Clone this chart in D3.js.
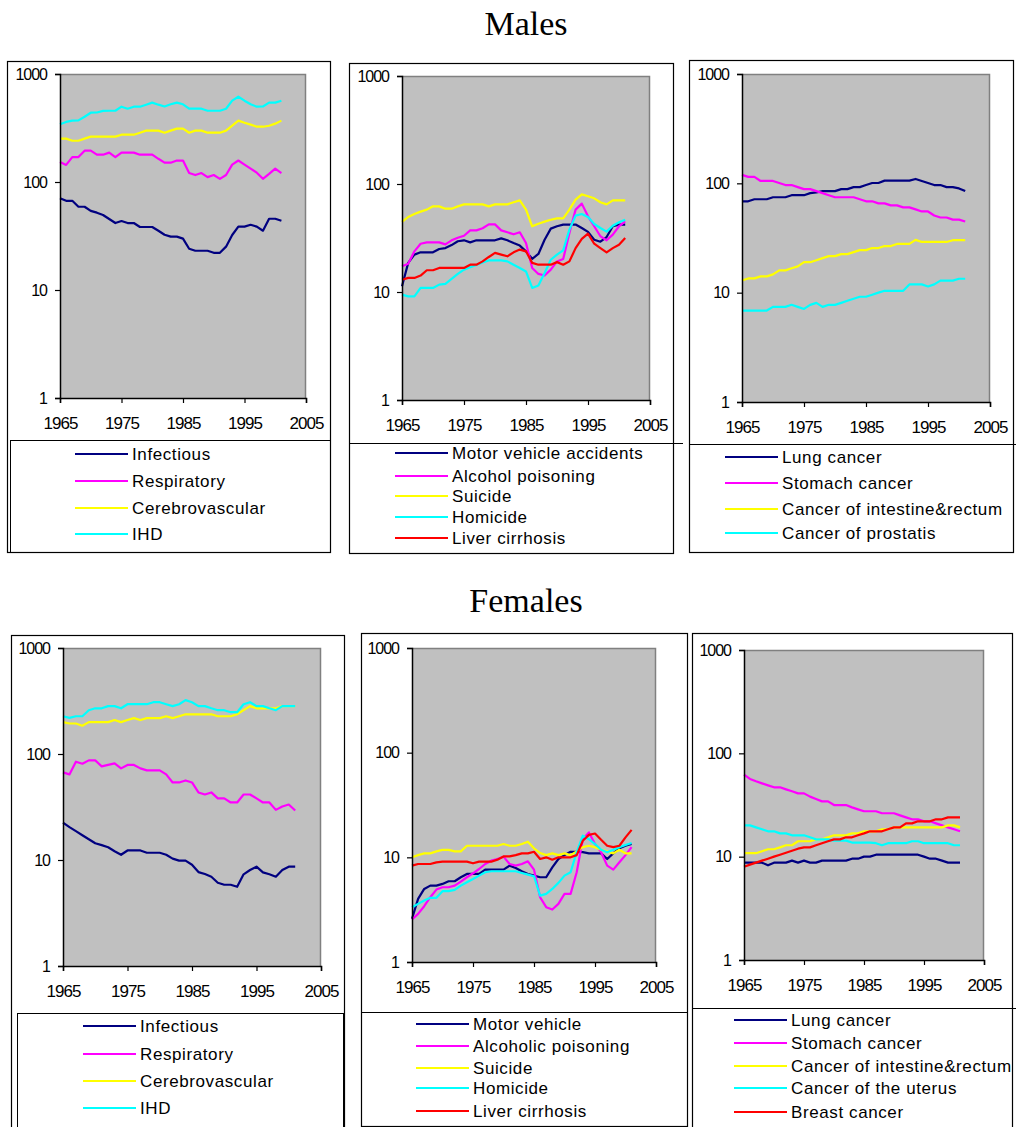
<!DOCTYPE html>
<html>
<head>
<meta charset="utf-8">
<script src="https://cdn.jsdelivr.net/npm/d3@7"></script>
<style>
  body { margin: 0; background: #fff; }
  svg { display: block; }
  .tick text { font-family: "Liberation Sans", Arial, sans-serif; fill: #000; }
  .legend text { font-family: "Liberation Sans", Arial, sans-serif; font-size: 17px; letter-spacing: 0.6px; }
  .title { font-family: "Liberation Serif", "Times New Roman", serif; font-size: 34px; }
</style>
</head>
<body>
<div id="chart"></div>
<script>
// data
const years = [1965,1966,1967,1968,1969,1970,1971,1972,1973,1974,1975,1976,1977,1978,1979,1980,1981,1982,1983,1984,
  1985,1986,1987,1988,1989,1990,1991,1992,1993,1994,1995,1996,1997,1998,1999,2000,2001];
const xTicks = [1965, 1975, 1985, 1995, 2005];
const yTicks = [1, 10, 100, 1000];

// Males
const mInfectious = [70.6,67,67,59,59,54,52,49.5,45.4,41.7,43.5,41.7,41.7,38.3,38.3,38.3,35.4,32.5,31.2,31.2,29.9,24.1,23.1,23.1,23.1,22.1,22.1,25.2,32.3,38.6,38.6,40.2,38.6,35.4,45.7,45.7,43.8];
const mRespiratory = [153,144,170,170,195,195,179,179,187,170,187,187,187,179,179,179,164,151,151,158,158,121,116,121,111,116,107,116,145,158,145,133,122,107,119,133,121];
const mCerebro = [252,252,241,241,252,263,263,263,263,263,274,274,274,286,299,299,299,286,299,312,312,286,299,299,286,286,286,299,332,370,354,340,325,325,332,347,370];
const mIHD = [342,360,370,372,402,438,440,455,457,457,498,477,498,498,520,543,520,500,524,543,524,477,477,477,457,457,457,477,566,616,566,524,498,500,543,543,566];

const mMotor = [11.3,18.6,22.2,23.3,23.3,23.3,25.0,25.5,27.2,29.5,30.1,28.8,30.1,30.1,30.1,30.1,31.4,30.1,28.4,26.9,23.8,20.3,22.5,30.5,38.6,40.6,42.1,42.1,42.1,39.1,36.0,30.5,29.2,32.3,40.6,42.1,42.1];
const mAlcohol = [17.3,18.3,23.8,28.0,28.8,28.8,28.8,27.6,30.1,31.8,33.2,37.2,37.2,38.9,42.3,42.3,37.2,35.7,34.2,35.7,28.4,16.7,14.7,14.2,16.1,19.2,20.2,35.2,57.9,65.8,50.2,40.6,32.8,30.1,34.0,40.6,45.1];
const mSuicide = [44.5,49.5,52.7,55.5,57.9,62.1,62.1,59.1,59.1,62.1,64.8,64.8,64.8,64.8,62.1,64.8,64.8,64.8,67.7,70.6,57.9,40.6,42.9,44.8,46.7,48.1,48.1,57.9,71.6,80.2,76.9,73.7,67.7,64.8,70.6,70.6,70.6];
const mHomicide = [9.45,9.1,9.1,10.9,10.9,10.9,11.7,11.9,13.2,14.7,16.1,17.0,17.8,18.8,19.6,19.6,19.6,19.2,17.9,16.7,15.5,10.9,11.5,15.0,19.9,22.2,24.3,37.8,50.9,52.7,49.5,42.6,39.1,36.2,41.1,44.2,46.7];
const mLiver = [13.0,13.5,13.5,14.2,15.9,15.9,16.7,16.7,16.7,16.7,16.7,17.9,17.9,19.2,21.1,23.0,22.2,21.4,23.3,24.7,23.8,18.6,17.9,17.9,17.9,18.9,17.9,19.2,25.5,31.0,34.7,28.0,25.5,23.3,25.5,27.4,31.6];

const mLung = [68.5,68.5,71.5,71.5,71.5,74.6,74.6,74.6,77.9,77.9,77.9,81.3,82.5,84.9,84.9,84.9,88.6,88.6,92.4,92.4,96.5,100.7,100.7,105.9,105.9,105.9,105.9,105.9,109.7,105.1,100.7,96.5,96.5,92.4,92.4,89.9,84.9];
const mStomach = [119.5,114.5,114.5,105.1,105.1,105.1,100.7,96.5,96.5,92.4,88.6,88.6,84.9,81.3,77.9,74.6,74.6,74.6,74.6,71.5,68.5,68.5,65.6,65.6,62.9,62.9,60.3,60.3,57.8,55.3,55.3,50.8,48.7,48.7,46.6,46.6,44.7];
const mIntestine = [12.9,13.5,13.5,14.1,14.1,14.7,16.0,16.0,16.7,17.4,19.0,19.0,19.8,20.7,21.6,21.6,22.5,22.5,23.5,24.5,24.5,25.6,25.6,26.7,26.7,27.9,27.9,27.9,30.4,29.1,29.1,29.1,29.1,29.1,30.2,30.2,30.2];
const mProstate = [6.86,6.86,6.86,6.86,6.86,7.41,7.41,7.41,7.74,7.41,7.10,7.74,8.07,7.41,7.74,7.74,8.07,8.43,8.80,9.18,9.18,9.58,10.0,10.4,10.4,10.4,10.4,11.9,11.9,11.9,11.4,11.9,12.9,12.9,12.9,13.4,13.4];

// Females
const fInfectious = [22.5,20.4,18.7,17.1,15.7,14.4,13.8,13.2,12.1,11.2,12.3,12.3,12.3,11.7,11.7,11.7,11.2,10.3,9.86,9.86,9.03,7.69,7.37,6.95,6.10,5.84,5.84,5.59,7.33,8.04,8.65,7.65,7.33,6.95,8.04,8.65,8.65];
const fRespiratory = [67.1,64.2,84.6,81.0,87.1,87.1,76.4,78.9,81.6,73.2,78.9,78.9,73.2,70.1,70.1,70.1,64.2,53.9,53.9,56.3,53.9,43.4,41.5,43.4,38.1,38.1,34.9,34.9,41.5,41.5,38.1,34.9,34.9,29.7,32.0,33.4,29.3];
const fCerebro = [200,194,194,185,200,200,200,200,209,200,209,218,209,218,218,218,227,218,227,237,237,237,237,237,227,227,227,237,259,283,270,270,270,270,283,283,283];
const fIHD = [227,219,227,227,259,270,270,283,283,270,295,295,295,295,308,308,295,283,295,322,308,283,283,270,259,259,248,248,295,308,283,283,270,259,283,283,283];

const fMotor = [2.59,4.01,4.99,5.37,5.37,5.57,5.91,5.91,6.45,6.94,6.94,6.94,7.63,7.63,7.63,7.63,8.33,7.91,7.36,6.94,6.69,6.45,6.45,8.03,9.64,10.5,11.3,11.3,11.2,10.9,10.9,10.9,9.64,10.9,12.2,12.9,13.4];
const fAlcohol = [2.55,2.88,3.41,4.16,4.92,5.18,5.18,5.37,5.86,6.45,7.04,7.74,8.64,9.29,9.64,10.15,8.64,8.33,8.64,9.16,7.63,4.16,3.34,3.17,3.59,4.48,4.48,7.20,14.9,17.3,13.4,11.2,8.33,7.63,8.96,10.5,12.5];
const fSuicide = [10,10.5,10.9,10.9,11.4,11.8,11.8,11.4,11.4,12.9,12.9,12.9,12.9,12.9,12.9,13.4,12.9,12.9,13.4,14.1,12.2,11.0,10.5,10.9,10.5,10.9,10.5,11.4,12.5,12.9,12.5,11.8,11.4,10.9,11.8,10.9,10.9];
const fHomicide = [3.34,3.59,3.87,4.10,4.10,4.75,4.75,4.89,5.37,5.78,6.22,6.69,7.20,7.36,7.36,7.36,7.36,7.36,7.09,6.84,6.59,4.31,4.48,4.99,5.70,6.69,7.20,11.2,16.1,14.9,13.4,11.8,11.2,11.8,12.5,13.1,13.7];
const fLiver = [8.33,8.64,8.64,8.64,8.96,9.09,9.09,9.09,9.09,9.09,8.77,9.09,9.09,9.09,9.50,10.2,10.2,10.5,10.9,10.9,11.3,9.64,10.0,9.50,10.0,10.0,10.0,10.5,14.4,16.4,16.9,14.7,12.9,12.5,12.9,15.5,18.3];

const fLung = [8.75,8.75,8.75,8.75,8.24,8.75,8.75,8.75,9.15,8.75,9.15,8.75,8.75,9.15,9.15,9.15,9.15,9.15,9.56,9.56,10,10,10.45,10.45,10.45,10.45,10.45,10.45,10.45,10.45,10,9.56,9.56,9.15,8.75,8.75,8.75];
const fStomach = [62.2,56.5,53.6,51.2,49.0,46.9,46.9,44.8,42.9,41.0,41.0,38.1,36.1,34.3,34.3,31.6,31.6,31.6,30.0,28.7,27.5,27.5,27.5,26.3,26.3,26.3,25.1,24.0,23.0,23.0,22.0,22.0,21.0,20.1,19.2,18.4,17.6];
const fIntestine = [10.8,10.8,10.8,11.3,11.8,11.8,12.3,12.9,12.9,14.1,14.1,14.1,14.7,14.7,15.4,16.1,16.1,16.1,16.8,16.8,17.6,17.6,17.6,18.4,18.4,19.2,19.2,19.2,19.2,19.2,19.2,19.2,19.2,19.2,20.1,20.1,19.2];
const fUterus = [20.1,20.1,19.2,18.4,17.6,17.6,16.8,16.8,16.1,16.1,16.1,15.4,14.7,14.7,14.7,14.3,14.3,14.3,13.7,13.7,13.7,13.7,13.5,12.9,13.5,13.5,13.5,13.5,14.1,14.1,13.5,13.5,13.5,13.5,13.5,12.9,12.9];
const fBreast = [8.0,8.37,8.75,9.15,9.56,10,10.45,10.9,11.4,11.95,12.3,12.3,12.9,13.5,14.1,14.7,14.7,15.4,15.4,16.1,16.8,17.6,17.6,17.6,18.4,19.2,19.2,21.0,21.0,22.0,22.0,22.0,23.0,23.0,24.0,24.0,24.0];

const NAVY = '#000080', MAG = '#ff00ff', YEL = '#ffff00', CYAN = '#00ffff', RED = '#ff0000';

const panels = [
  { plot: [60, 306, 74, 398], frame: [7, 61, 330, 552], legBox: [10, 440, 330, 552], legLine: null,
    legX: 75, rows: [454, 481, 508, 534],
    series: [['Infectious', NAVY, mInfectious], ['Respiratory', MAG, mRespiratory], ['Cerebrovascular', YEL, mCerebro], ['IHD', CYAN, mIHD]] },
  { plot: [402, 650, 76, 400], frame: [349, 63, 673, 553], legBox: null, legLine: [349, 683, 443],
    legX: 395, rows: [453, 476, 496, 517, 538],
    series: [['Motor vehicle accidents', NAVY, mMotor], ['Alcohol poisoning', MAG, mAlcohol], ['Suicide', YEL, mSuicide], ['Homicide', CYAN, mHomicide], ['Liver cirrhosis', RED, mLiver]] },
  { plot: [742, 990, 74, 402], frame: [689, 60, 1013, 552], legBox: null, legLine: [689, 1016, 444],
    legX: 725, rows: [457, 483, 509, 533],
    series: [['Lung cancer', NAVY, mLung], ['Stomach cancer', MAG, mStomach], ['Cancer of intestine&rectum', YEL, mIntestine], ['Cancer of prostatis', CYAN, mProstate]] },
  { plot: [63, 321, 648, 966], frame: [11, 635, 344, 1140], legBox: [17, 1013, 343, 1140], legLine: null,
    legX: 83, rows: [1026, 1054, 1081, 1108],
    series: [['Infectious', NAVY, fInfectious], ['Respiratory', MAG, fRespiratory], ['Cerebrovascular', YEL, fCerebro], ['IHD', CYAN, fIHD]] },
  { plot: [412, 656, 648, 962], frame: [361, 633, 687, 1126], legBox: null, legLine: [361, 688, 1012],
    legX: 416, rows: [1024, 1046, 1068, 1088, 1111],
    series: [['Motor vehicle', NAVY, fMotor], ['Alcoholic poisoning', MAG, fAlcohol], ['Suicide', YEL, fSuicide], ['Homicide', CYAN, fHomicide], ['Liver cirrhosis', RED, fLiver]] },
  { plot: [744, 984, 650, 960], frame: [692, 633, 1012, 1140], legBox: null, legLine: [692, 1016, 1008],
    legX: 734, rows: [1020, 1043, 1066, 1088, 1112],
    series: [['Lung cancer', NAVY, fLung], ['Stomach cancer', MAG, fStomach], ['Cancer of intestine&rectum', YEL, fIntestine], ['Cancer of the uterus', CYAN, fUterus], ['Breast cancer', RED, fBreast]] }
];

const svg = d3.select('#chart').append('svg')
  .attr('width', 1016)
  .attr('height', 1127);

svg.append('text').attr('class', 'title')
  .attr('x', 526).attr('y', 35).attr('text-anchor', 'middle').text('Males');
svg.append('text').attr('class', 'title')
  .attr('x', 526).attr('y', 612).attr('text-anchor', 'middle').text('Females');

panels.forEach(p => {
  const [px0, px1, py0, py1] = p.plot;
  const g = svg.append('g');

  // frame around chart
  const [fx0, fy0, fx1, fy1] = p.frame;
  g.append('rect')
    .attr('x', fx0 + 0.5).attr('y', fy0 + 0.5)
    .attr('width', fx1 - fx0).attr('height', fy1 - fy0)
    .attr('fill', 'none').attr('stroke', '#000').attr('stroke-width', 1.2);

  if (p.legBox) {
    const [lx0, ly0, lx1, ly1] = p.legBox;
    g.append('rect')
      .attr('x', lx0 + 0.5).attr('y', ly0 + 0.5)
      .attr('width', lx1 - lx0).attr('height', ly1 - ly0)
      .attr('fill', 'none').attr('stroke', '#000').attr('stroke-width', 1);
  }
  if (p.legLine) {
    g.append('line')
      .attr('x1', p.legLine[0]).attr('x2', p.legLine[1])
      .attr('y1', p.legLine[2] + 0.5).attr('y2', p.legLine[2] + 0.5)
      .attr('stroke', '#000').attr('stroke-width', 1);
  }

  const x = d3.scaleLinear().domain([1965, 2005]).range([px0, px1]);
  const y = d3.scaleLog().domain([1, 1000]).range([py1, py0]);

  // plot area
  g.append('rect')
    .attr('x', px0).attr('y', py0)
    .attr('width', px1 - px0).attr('height', py1 - py0)
    .attr('fill', '#c0c0c0');
  g.append('path')
    .attr('d', `M${px0},${py0 + 0.5}H${px1 - 0.5}V${py1}`)
    .attr('fill', 'none').attr('stroke', '#808080').attr('stroke-width', 1.5);

  // lines
  const line = d3.line()
    .x((d, i) => x(years[i]))
    .y(d => y(d));
  p.series.forEach(s => {
    g.append('path')
      .datum(s[2])
      .attr('d', line)
      .attr('fill', 'none')
      .attr('stroke', s[1])
      .attr('stroke-width', 2.2)
      .attr('stroke-linejoin', 'round');
  });

  // axes
  const yAxis = g.append('g')
    .attr('transform', `translate(${px0},0)`)
    .call(d3.axisLeft(y).tickValues(yTicks).tickFormat(d3.format('d')).tickSize(5).tickPadding(8));
  yAxis.selectAll('text').attr('font-size', 16).attr('letter-spacing', -1);

  const xAxis = g.append('g')
    .attr('transform', `translate(0,${py1})`)
    .call(d3.axisBottom(x).tickValues(xTicks).tickFormat(d3.format('d')).tickSize(5).tickPadding(14));
  xAxis.selectAll('text').attr('font-size', 17).attr('letter-spacing', -1);

  [yAxis, xAxis].forEach(a => {
    a.select('.domain').attr('stroke', '#000').attr('stroke-width', 1.5);
    a.selectAll('.tick line').attr('stroke', '#000').attr('stroke-width', 1.2);
  });

  // legend
  const leg = g.append('g').attr('class', 'legend');
  p.series.forEach((s, i) => {
    const ry = p.rows[i];
    leg.append('line')
      .attr('x1', p.legX).attr('x2', p.legX + 53)
      .attr('y1', ry).attr('y2', ry)
      .attr('stroke', s[1]).attr('stroke-width', 2.2);
    leg.append('text')
      .attr('x', p.legX + 57).attr('y', ry + 6)
      .text(s[0]);
  });
});
</script>
</body>
</html>
